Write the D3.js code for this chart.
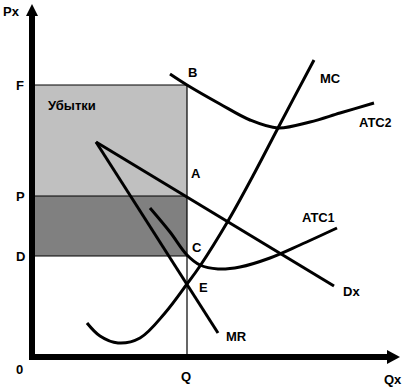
<!DOCTYPE html>
<html><head><meta charset="utf-8">
<script src="https://cdn.jsdelivr.net/npm/d3@7"></script>
<style>body{margin:0;background:#fff}svg{display:block}text{font-family:"Liberation Sans",Arial,sans-serif;font-size:13px;font-weight:bold;fill:#000}</style>
</head><body>
<script>
// Quantities and prices (data units: origin at axes crossing)
const levelQ = 154;
const levelF = 271, levelP = 160, levelD = 100;
const priceLabels = ["F","P","D"];
const priceLevels = [levelF, levelP, levelD];
const demand = [[63,214],[301,70]];
const mr = [[63,214],[185,23]];
const mc = [[54,33],[67,20],[85,13],[107,18],[132,43],[154,72],[167,90],[195,135],[222,184],[245,228],[281,296]];
const atc2 = [[137,282],[154,271],[187,252],[217,236],[245,228],[277,234],[307,243],[341,253]];
const atc1 = [[117,148],[137,124],[154,101],[167,91],[185,87],[207,89],[237,98],[267,111],[304,128]];

const W=406,H=391;
const x=d3.scaleLinear().domain([0,370]).range([33,403]);
const y=d3.scaleLinear().domain([0,350]).range([356,6]);
const svg=d3.select("body").append("svg").attr("width",W).attr("height",H);

// loss rectangles
svg.append("rect").attr("x",x(0)).attr("y",y(levelF)).attr("width",x(levelQ)-x(0)).attr("height",y(levelP)-y(levelF)).attr("fill","#c0c0c0");
svg.append("rect").attr("x",x(0)).attr("y",y(levelP)).attr("width",x(levelQ)-x(0)).attr("height",y(levelD)-y(levelP)).attr("fill","#808080");
priceLevels.forEach(v=>{
  svg.append("line").attr("x1",x(0)).attr("x2",x(levelQ)).attr("y1",y(v)).attr("y2",y(v)).attr("stroke","#000").attr("stroke-width",1.2);
});
svg.append("line").attr("x1",x(levelQ)).attr("x2",x(levelQ)).attr("y1",y(levelF)).attr("y2",y(0)).attr("stroke","#000").attr("stroke-width",1.2);

const lineGen=d3.line().x(d=>x(d[0])).y(d=>y(d[1]));
const smooth=d3.line().x(d=>x(d[0])).y(d=>y(d[1])).curve(d3.curveCatmullRom.alpha(0.5));
[[demand,lineGen],[mr,lineGen],[mc,smooth],[atc2,smooth],[atc1,smooth]].forEach(([d,g])=>{
  svg.append("path").attr("d",g(d)).attr("fill","none").attr("stroke","#000").attr("stroke-width",3);
});

// axes
const ax=x(0)-1, ay=y(0)+1;
svg.append("line").attr("x1",ax).attr("x2",ax).attr("y1",ay+3).attr("y2",14).attr("stroke","#000").attr("stroke-width",6);
svg.append("line").attr("x1",ax-3).attr("x2",389).attr("y1",ay).attr("y2",ay).attr("stroke","#000").attr("stroke-width",6);
svg.append("path").attr("d",`M${ax-6},16 L${ax},4 L${ax+6},16 Z`).attr("fill","#000");
svg.append("path").attr("d",`M387,${ay-7} L400,${ay} L387,${ay+7} Z`).attr("fill","#000");

// labels
const T=(t,px,py)=>svg.append("text").attr("x",px).attr("y",py).text(t);
T("Px",3,16);
T("Qx",384,384);
T("0",16,374);
T("Q",181,381);
priceLabels.forEach((l,i)=>T(l,16,y(priceLevels[i])+5));
T("Убытки",48,110);
T("B",188,77);
T("A",191,178);
T("C",192,252);
T("E",199,292);
T("MR",226,341);
T("Dx",343,296);
T("MC",320,83);
svg.append("text").attr("x",359).attr("y",127).html('ATC<tspan font-size="12px">2</tspan>');
svg.append("text").attr("x",302).attr("y",222).html('ATC<tspan font-size="12px">1</tspan>');
</script>
</body></html>
